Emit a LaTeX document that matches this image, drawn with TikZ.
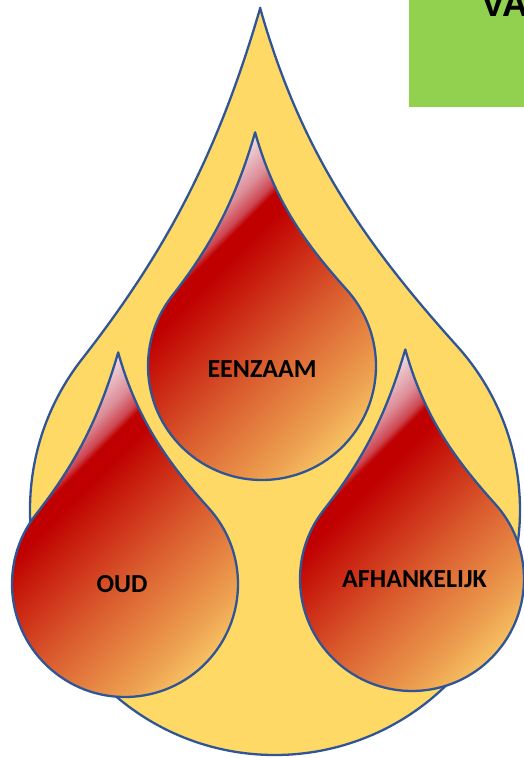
\documentclass[tikz,border=0pt]{standalone}
\usepackage{fontspec}
\newfontfamily\labelfont{Carlito}
\newfontfamily\titlefont{Liberation Sans}
\definecolor{dropYellow}{HTML}{FFD966}
\definecolor{lineBlue}{HTML}{2F5597}
\definecolor{boxGreen}{HTML}{92D050}
\definecolor{gY}{HTML}{FACD68}
\definecolor{gOa}{HTML}{EDA050}
\definecolor{gOb}{HTML}{DA5C2E}
\definecolor{gR}{HTML}{C00000}
\definecolor{gRp}{HTML}{CD4550}
\definecolor{gPa}{HTML}{DC8C96}
\definecolor{gPb}{HTML}{EFD4DA}
\definecolor{gP}{HTML}{F4E6EC}
\pgfdeclareverticalshading{dropgrad}{100bp}{color(0bp)=(gY); color(25bp)=(gY); color(32bp)=(gOa); color(44.6bp)=(gOb); color(59.8bp)=(gR); color(62.5bp)=(gR); color(63.6bp)=(gRp); color(66.1bp)=(gPa); color(70.5bp)=(gPb); color(73.2bp)=(gP); color(100bp)=(gP)}
\newcommand\dropAt[1]{\path[#1] (-0.06,-2.05) .. controls (-0.231,-1.464) and (-0.437,-1.065) .. (218:1) arc[start angle=218, end angle=-42, radius=1] .. controls (0.362,-1.093) and (0.105,-1.464) .. cycle;}
\tikzset{
  outerdrop/.style={draw=lineBlue, line width=2.3pt, fill=dropYellow, line join=round},
  dropline/.style={draw=lineBlue, line width=2.3pt, line join=round},
  droplabel/.style={anchor=base, inner sep=0pt, font=\labelfont\bfseries\fontsize{26}{30}\selectfont, text=black}
}
% #1,#2 centre of the round part, #3 its radius
\newcommand\shadedDrop[3]{%
  \begin{scope}
    \dropAt{clip, shift={(#1,#2)}, scale=#3}
    \shade[shading=dropgrad, transform canvas={rotate around={45:(#1,#2)}}]
      ({#1-2.5*#3},{#2-1.7*#3}) rectangle ({#1+2.5*#3},{#2+1.1*#3});
  \end{scope}
  \dropAt{dropline, shift={(#1,#2)}, scale=#3}%
}
\begin{document}
\begin{tikzpicture}[x=1pt, y=-1pt]
\useasboundingbox (0,0) rectangle (524,758);
% big drop
\dropAt{outerdrop, shift={(275,510)}, scale=245}
% inner drops
\shadedDrop{262}{366}{114}
\shadedDrop{125}{584}{113}
\shadedDrop{412}{579}{112}
\node[droplabel] (eenzaam) at (262,377) {EENZAAM};
\node[droplabel] (oud) at (122,592) {OUD};
\node[droplabel] (afh) at (414.5,587) {AFHANKELIJK};
% green title box
\fill[boxGreen] (409,0) rectangle (530,107);
\node[anchor=base west, inner sep=0pt, font=\titlefont\bfseries\fontsize{36}{40}\selectfont] (title) at (481,16) {VA};
\end{tikzpicture}
\end{document}
